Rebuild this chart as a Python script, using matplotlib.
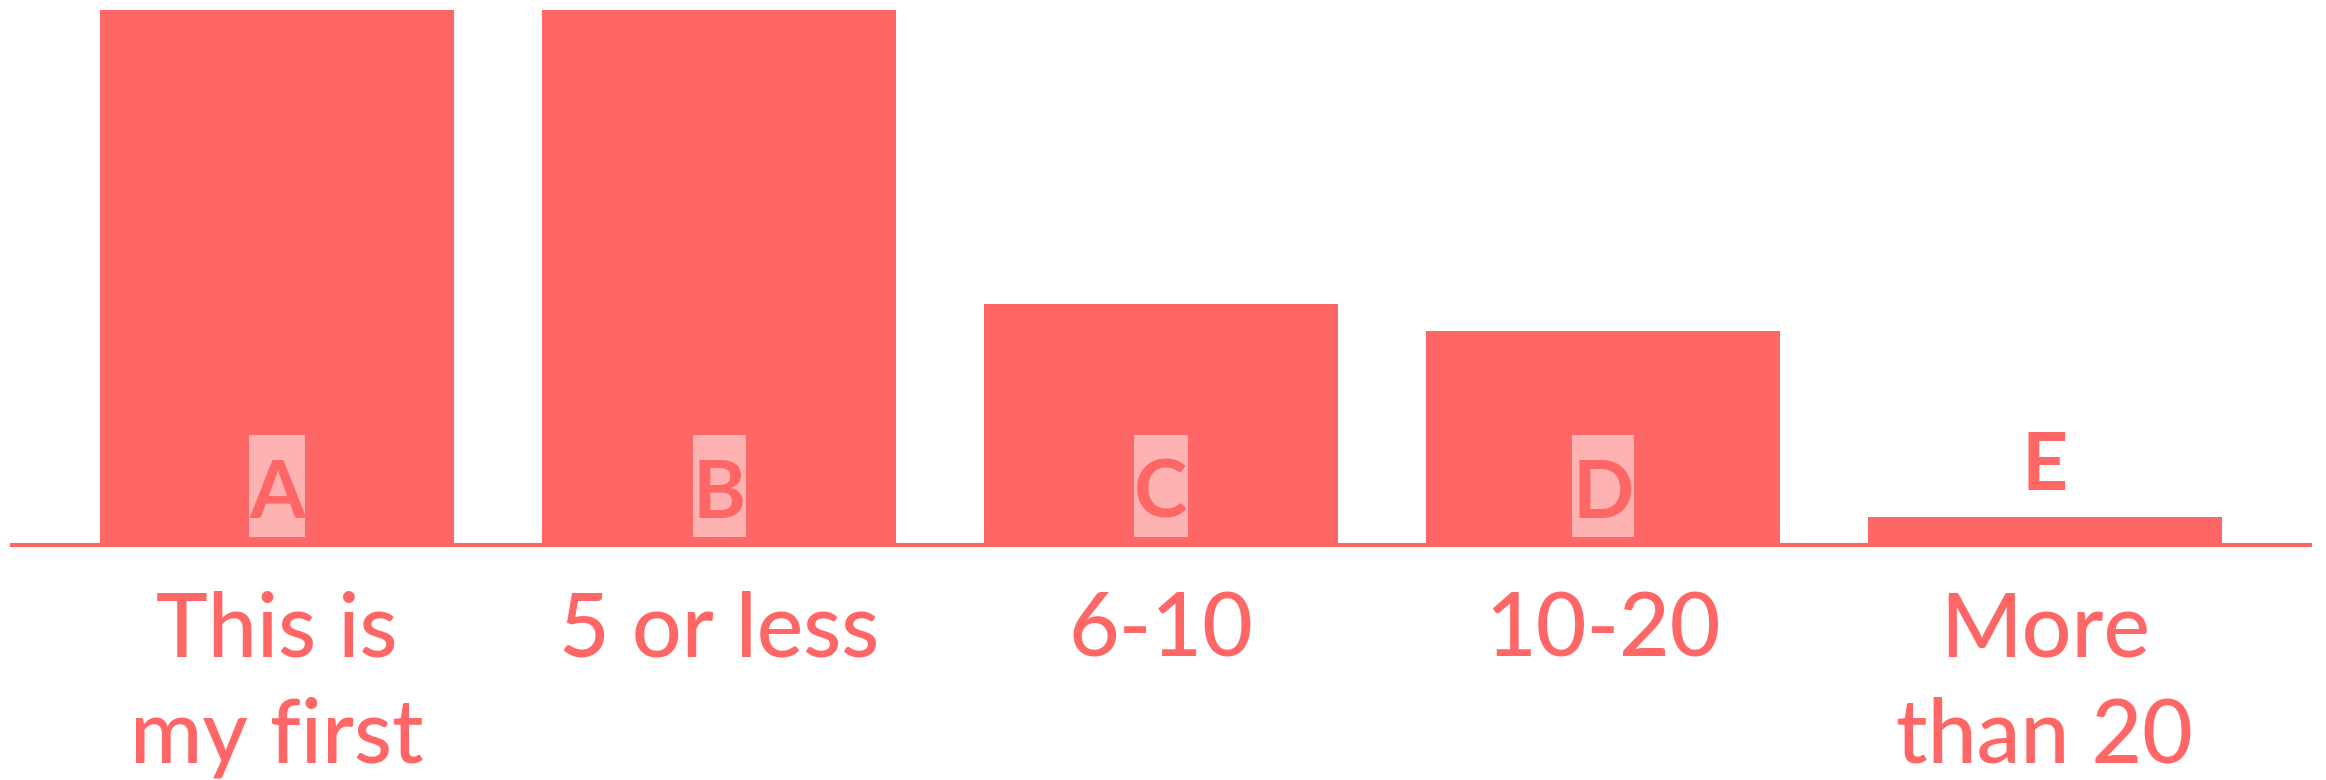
import matplotlib
matplotlib.use("Agg")
import matplotlib.pyplot as plt
from matplotlib.path import Path
import numpy as np

# Datos del gráfico
categorias = ["This is\nmy first", "5 or less", "6-10", "10-20", "More\nthan 20"]
letras = ["A", "B", "C", "D", "E"]
valores = [100, 100, 45, 40, 5.2]

rojo = "#FF6666"
plt.rcParams['font.family'] = ['Lato', 'DejaVu Sans']


# Caja sin margen horizontal, con más margen arriba que abajo
def caja(x0, y0, width, height, mutation_size):
    y1 = y0 + height + 0.285 * mutation_size
    y0 = y0 - 0.06 * mutation_size
    x1 = x0 + width
    return Path([(x0, y0), (x1, y0), (x1, y1), (x0, y1), (x0, y0)], closed=True)


fig = plt.figure(figsize=(23.26, 7.80), dpi=100)
ax = fig.add_axes([12 / 2326, 1 - 545 / 780, (2310 - 12) / 2326, (545 - 10) / 780])

x = np.arange(len(categorias))
ax.bar(x, valores, width=0.8, color=rojo, zorder=2)

ax.set_xlim(-0.6, len(categorias) - 0.4)
ax.set_ylim(0, max(valores))

# Etiquetas con letra: dentro de la barra si cabe, encima si no
for xi, v, letra in zip(x, valores, letras):
    base = 0 if v > 20 else v
    ax.annotate(letra, (xi, base), xytext=(0, 9.4), textcoords="offset points",
                ha="center", va="bottom", fontsize=58, fontweight="bold", color=rojo,
                bbox=dict(boxstyle=caja, fc="white", ec="none", alpha=0.5),
                zorder=3)

ax.set_xticks(x)
ax.set_xticklabels(categorias, fontsize=63, fontweight=500, color=rojo, linespacing=1.37)
ax.tick_params(axis="x", length=0, pad=33)
ax.set_yticks([])
for lado in ["top", "left", "right"]:
    ax.spines[lado].set_visible(False)
ax.spines["bottom"].set_color(rojo)
ax.spines["bottom"].set_linewidth(3)
ax.spines["bottom"].set_zorder(4)

fig.canvas.draw()
fig.savefig("out.png", dpi=100)
